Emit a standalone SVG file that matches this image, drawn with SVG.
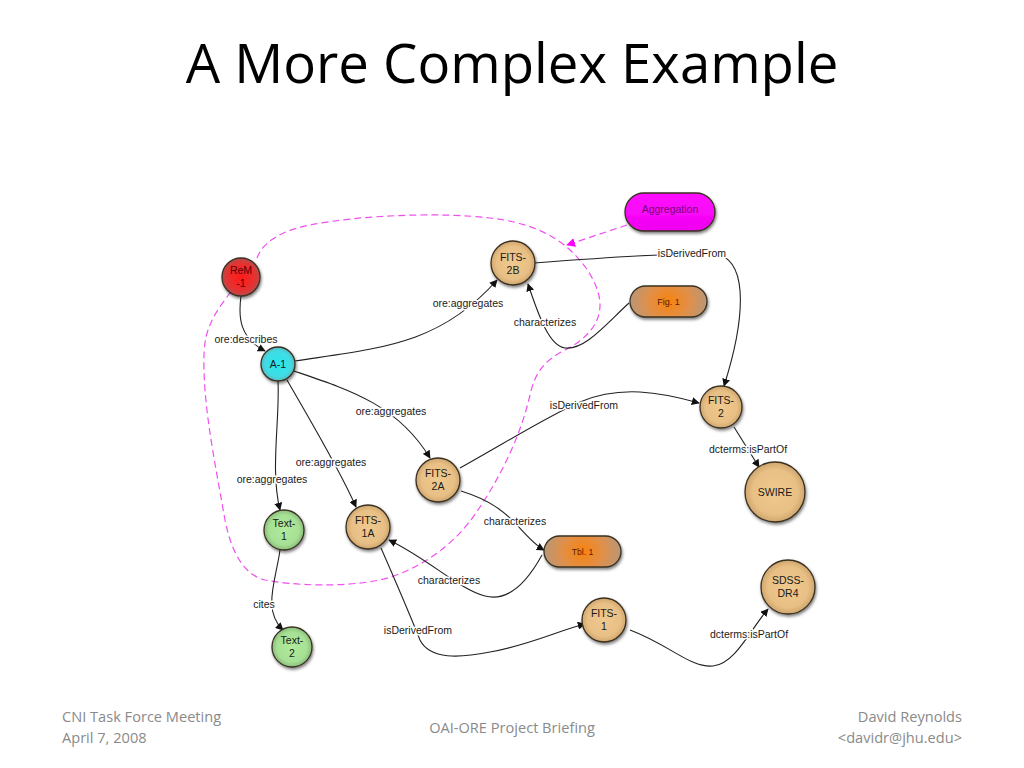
<svg xmlns="http://www.w3.org/2000/svg" width="1024" height="768" viewBox="0 0 1024 768">
<style>
.title{font-family:"Open Sans","Liberation Sans",sans-serif;font-size:54.5px;fill:#000}
.foot{font-family:"Open Sans","Liberation Sans",sans-serif;font-size:14.6px;fill:#8a8a8a}
.nt{font-family:"Liberation Sans",Arial,sans-serif;font-size:10.5px;fill:#1a1a1a;text-anchor:middle}
.lb{font-family:"Liberation Sans",Arial,sans-serif;font-size:10.5px;fill:#1a1a1a;text-anchor:middle;stroke:#fff;stroke-width:3px;paint-order:stroke;stroke-linejoin:round}
.e{fill:none;stroke:#222;stroke-width:1.1;marker-end:url(#arr)}
.nd{stroke:#3a3020;stroke-width:1.3;filter:url(#sh)}
</style>
<defs>
<marker id="arr" viewBox="0 0 10 10" refX="9" refY="5" markerWidth="8" markerHeight="8" markerUnits="userSpaceOnUse" orient="auto"><path d="M0,0 L10,5 L0,10 z" fill="#111"/></marker>
<marker id="arrm" viewBox="0 0 10 10" refX="9" refY="5" markerWidth="9" markerHeight="9" markerUnits="userSpaceOnUse" orient="auto"><path d="M0,0 L10,5 L0,10 z" fill="#ff00ff"/></marker>
<filter id="sh" x="-30%" y="-30%" width="160%" height="160%"><feDropShadow dx="1" dy="2" stdDeviation="1.8" flood-color="#000" flood-opacity="0.5"/></filter>
<radialGradient id="gTan" cx="50%" cy="50%" r="50%"><stop offset="0" stop-color="#f0c98e"/><stop offset="0.75" stop-color="#e8bf84"/><stop offset="1" stop-color="#cfa66e"/></radialGradient>
<radialGradient id="gRed" cx="50%" cy="50%" r="50%"><stop offset="0" stop-color="#ff1a1a"/><stop offset="0.7" stop-color="#e83030"/><stop offset="1" stop-color="#b84a4a"/></radialGradient>
<radialGradient id="gCyan" cx="50%" cy="50%" r="50%"><stop offset="0" stop-color="#28e8f0"/><stop offset="0.75" stop-color="#40dce4"/><stop offset="1" stop-color="#5ab8c0"/></radialGradient>
<radialGradient id="gGreen" cx="50%" cy="50%" r="50%"><stop offset="0" stop-color="#b0ec9c"/><stop offset="0.75" stop-color="#a6e094"/><stop offset="1" stop-color="#88bc7c"/></radialGradient>
<radialGradient id="gOr" cx="50%" cy="50%" r="50%" gradientTransform="translate(0.5,0.5) scale(1,2.2) translate(-0.5,-0.5)"><stop offset="0" stop-color="#f8820e"/><stop offset="0.55" stop-color="#e0904a"/><stop offset="1" stop-color="#b89678"/></radialGradient>
<linearGradient id="gMag" x1="0" y1="0" x2="0" y2="1"><stop offset="0" stop-color="#ff10ff"/><stop offset="1" stop-color="#f000f0"/></linearGradient>
</defs>
<rect width="1024" height="768" fill="#fff"/>
<text class="title" x="512" y="83" text-anchor="middle">A More Complex Example</text>

<g id="boundary">
<path d="M257,258 C262,245 275,232 310,225 C360,215 440,212 490,218 C525,222 550,232 570,250 C590,268 600,290 600,305 C600,325 585,340 565,350 C545,360 535,372 530,395 C522,430 505,470 478,510 C455,545 420,570 380,580 C340,588 290,585 265,580 C245,575 232,555 225,520 C218,480 208,430 205,390 C203,360 203,340 210,325 C215,312 225,300 232,290" fill="none" stroke="#f050f0" stroke-width="1.2" stroke-dasharray="7,4"/>
<path d="M627,225 L567,245" fill="none" stroke="#f050f0" stroke-width="1.2" stroke-dasharray="7,4" marker-end="url(#arrm)"/>
</g>

<g id="connectors">
<path class="e" d="M241,296 C238,318 240,338 265,351"/>
<path class="e" d="M295,361 C380,348 440,345 497,280"/>
<path class="e" d="M294,371 C350,390 398,405 430,458"/>
<path class="e" d="M287,380 C310,420 340,470 356,507"/>
<path class="e" d="M278,381 C280,420 270,470 280,510"/>
<path class="e" d="M280,550 C276,580 262,610 283,630"/>
<path class="e" d="M534,263 C600,258 680,252 720,255 C748,265 745,320 724,386"/>
<path class="e" d="M629,303 C605,325 585,350 565,348 C550,346 540,320 528,284"/>
<path class="e" d="M460,468 C510,440 550,415 580,402 C620,385 660,392 699,403"/>
<path class="e" d="M734,427 L759,467"/>
<path class="e" d="M461,491 C490,500 505,512 518,526 C528,537 535,545 544,550"/>
<path class="e" d="M542,555 C520,595 500,600 485,596 C460,590 430,560 389,540"/>
<path class="e" d="M381,548 C395,580 410,615 420,640 C430,660 460,658 490,652 C530,645 560,630 585,624"/>
<path class="e" d="M630,630 C670,645 690,668 713,666 C735,664 750,630 768,609"/>
<text class="lb" x="246" y="343">ore:describes</text>
<text class="lb" x="468" y="307">ore:aggregates</text>
<text class="lb" x="545" y="326">characterizes</text>
<text class="lb" x="692" y="257">isDerivedFrom</text>
<text class="lb" x="391" y="415">ore:aggregates</text>
<text class="lb" x="584" y="409">isDerivedFrom</text>
<text class="lb" x="331" y="466">ore:aggregates</text>
<text class="lb" x="272" y="483">ore:aggregates</text>
<text class="lb" x="748" y="453">dcterms:isPartOf</text>
<text class="lb" x="515" y="525">characterizes</text>
<text class="lb" x="449" y="584">characterizes</text>
<text class="lb" x="264" y="608">cites</text>
<text class="lb" x="418" y="634">isDerivedFrom</text>
<text class="lb" x="749" y="638">dcterms:isPartOf</text>
</g>

<g id="n-aggregation"><rect class="nd" x="625" y="193" width="90" height="38" rx="19" fill="url(#gMag)" stroke="#5a0a5a"/><text class="nt" x="670" y="213" style="fill:#7a007a">Aggregation</text></g>
<g id="n-fig1"><rect class="nd" x="630" y="286" width="77" height="31" rx="15.5" fill="url(#gOr)"/><text class="nt" x="668.5" y="305" style="font-size:9px;fill:#5a1a00">Fig. 1</text></g>
<g id="n-tbl1"><rect class="nd" x="544" y="536" width="77" height="31" rx="15.5" fill="url(#gOr)"/><text class="nt" x="582.5" y="555" style="font-size:8.5px;fill:#5a1a00">Tbl. 1</text></g>
<g id="n-rem1"><circle class="nd" cx="241" cy="277" r="19" fill="url(#gRed)"/><text class="nt" x="241" y="274" style="fill:#5a0000">ReM</text><text class="nt" x="241" y="287" style="fill:#5a0000">-1</text></g>
<g id="n-fits2b"><circle class="nd" cx="513" cy="263" r="22" fill="url(#gTan)"/><text class="nt" x="513" y="261">FITS-</text><text class="nt" x="513" y="274">2B</text></g>
<g id="n-a1"><circle class="nd" cx="278" cy="364" r="17" fill="url(#gCyan)"/><text class="nt" x="278" y="368">A-1</text></g>
<g id="n-fits2a"><circle class="nd" cx="438" cy="480" r="22" fill="url(#gTan)"/><text class="nt" x="438" y="477">FITS-</text><text class="nt" x="438" y="490">2A</text></g>
<g id="n-text1"><circle class="nd" cx="284" cy="530" r="20" fill="url(#gGreen)"/><text class="nt" x="284" y="527">Text-</text><text class="nt" x="284" y="540">1</text></g>
<g id="n-fits1a"><circle class="nd" cx="368" cy="527" r="22" fill="url(#gTan)"/><text class="nt" x="368" y="524">FITS-</text><text class="nt" x="368" y="537">1A</text></g>
<g id="n-text2"><circle class="nd" cx="292" cy="647" r="20" fill="url(#gGreen)"/><text class="nt" x="292" y="644">Text-</text><text class="nt" x="292" y="657">2</text></g>
<g id="n-fits2"><circle class="nd" cx="721" cy="407" r="21" fill="url(#gTan)"/><text class="nt" x="721" y="404">FITS-</text><text class="nt" x="721" y="417">2</text></g>
<g id="n-swire"><circle class="nd" cx="775" cy="492" r="30" fill="url(#gTan)"/><text class="nt" x="775" y="496">SWIRE</text></g>
<g id="n-sdss"><circle class="nd" cx="788" cy="587" r="27" fill="url(#gTan)"/><text class="nt" x="788" y="584">SDSS-</text><text class="nt" x="788" y="597">DR4</text></g>
<g id="n-fits1"><circle class="nd" cx="604" cy="620" r="22" fill="url(#gTan)"/><text class="nt" x="604" y="617">FITS-</text><text class="nt" x="604" y="630">1</text></g>

<g id="footer">
<text class="foot" x="62" y="722">CNI Task Force Meeting</text>
<text class="foot" x="62" y="743">April 7, 2008</text>
<text class="foot" x="512" y="733" text-anchor="middle">OAI-ORE Project Briefing</text>
<text class="foot" x="962" y="722" text-anchor="end">David Reynolds</text>
<text class="foot" x="962" y="743" text-anchor="end">&lt;davidr@jhu.edu&gt;</text>
</g>
</svg>
